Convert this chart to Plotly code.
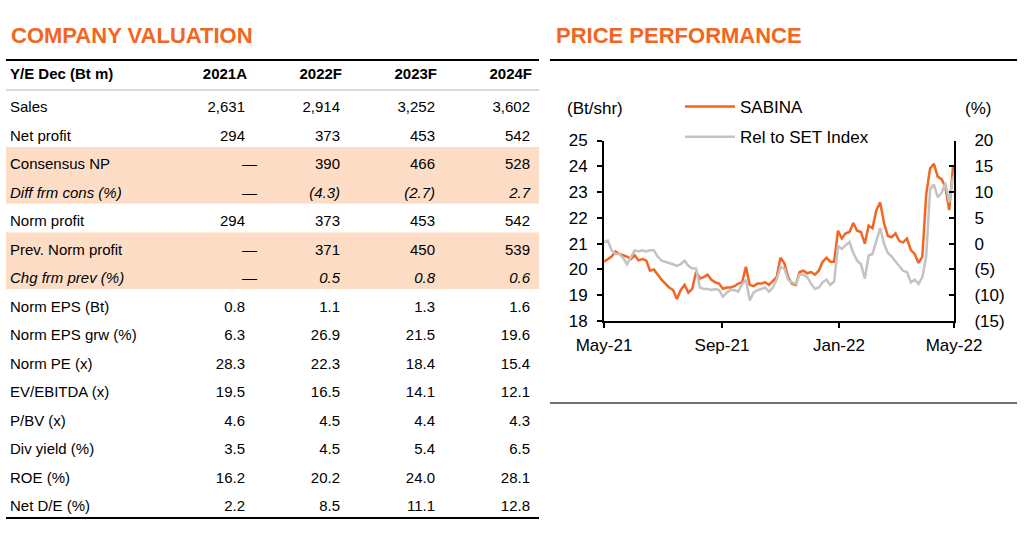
import pandas as pd
import plotly.graph_objects as go

# ---- table data ----
col_heads = ["2021A", "2022F", "2023F", "2024F"]
row_labels = ["Sales", "Net profit", "Consensus NP", "Diff frm cons (%)", "Norm profit",
              "Prev. Norm profit", "Chg frm prev (%)", "Norm EPS (Bt)", "Norm EPS grw (%)",
              "Norm PE (x)", "EV/EBITDA (x)", "P/BV (x)", "Div yield (%)", "ROE (%)", "Net D/E (%)"]
val_2021 = ["2,631", "294", "—", "—", "294", "—", "—", "0.8", "6.3", "28.3", "19.5", "4.6", "3.5", "16.2", "2.2"]
val_2022 = ["2,914", "373", "390", "(4.3)", "373", "371", "0.5", "1.1", "26.9", "22.3", "16.5", "4.5", "4.5", "20.2", "8.5"]
val_2023 = ["3,252", "453", "466", "(2.7)", "453", "450", "0.8", "1.3", "21.5", "18.4", "14.1", "4.4", "5.4", "24.0", "11.1"]
val_2024 = ["3,602", "542", "528", "2.7", "542", "539", "0.6", "1.6", "19.6", "15.4", "12.1", "4.3", "6.5", "28.1", "12.8"]
italic_rows = [3, 6]
shaded_rows = [(2, 3), (5, 6)]

# ---- price performance data (every 4 days from May-21) ----
dates = pd.date_range("2021-05-01", periods=92, freq="4D")
sabina = [20.3, 20.4, 20.5, 20.7, 20.6, 20.55, 20.5, 20.4, 20.55, 20.35,
          20.4, 20.35, 19.95, 20.0, 19.8, 19.6, 19.45, 19.3, 19.2, 18.85,
          19.2, 19.4, 19.1, 19.25, 19.9, 19.65, 19.7, 19.8, 19.6, 19.5,
          19.45, 19.25, 19.3, 19.3, 19.35, 19.45, 19.5, 20.1, 19.4, 19.35,
          19.45, 19.45, 19.5, 19.4, 19.55, 19.7, 20.45, 20.25, 19.7, 19.45,
          19.4, 19.9, 19.95, 19.85, 19.9, 19.8, 19.95, 20.3, 20.45, 20.3,
          20.3, 21.5, 21.2, 21.4, 21.45, 21.8, 21.5, 21.45, 21.0, 21.7,
          21.6, 22.3, 22.6, 21.8, 21.3, 21.25, 21.4, 21.1, 21.05, 21.2,
          20.75, 20.6, 20.25, 20.5, 22.9, 23.9, 24.1, 23.6, 23.5, 23.2,
          22.3, 24.0]
rel_set = [0.3, 0.6, -1.3, -2.0, -2.0, -2.8, -4.0, -2.5, -1.3, -1.5,
           -1.3, -1.5, -1.3, -1.3, -2.5, -3.3, -3.5, -3.8, -4.0, -4.3,
           -4.0, -3.3, -4.3, -4.8, -4.8, -8.5, -8.8, -8.8, -9.0, -8.8,
           -9.0, -10.3, -9.5, -9.0, -9.0, -9.3, -7.8, -7.0, -11.0, -9.5,
           -9.0, -8.8, -8.5, -9.3, -8.5, -7.0, -4.5, -4.8, -7.0, -7.5,
           -7.8, -6.0, -6.0, -6.5, -7.8, -8.8, -8.5, -7.5, -7.0, -8.0,
           -7.3, -0.5, -1.0, -0.3, 0.3, -1.8, -3.3, -4.0, -6.8, -2.3,
           -2.0, 0.5, 3.0, 0.0, -1.8, -2.5, -3.5, -4.5, -5.3, -5.5,
           -7.5, -7.0, -7.8, -6.5, -2.5, 10.5, 11.5, 9.0, 9.8, 11.8,
           8.0, 13.0]
x_ticks = ["2021-05-01", "2021-09-01", "2022-01-01", "2022-05-01"]
x_ticktext = ["May-21", "Sep-21", "Jan-22", "May-22"]
y2_ticks = [-15, -10, -5, 0, 5, 10, 15, 20]
y2_ticktext = ["(15)", "(10)", "(5)", "0", "5", "10", "15", "20"]

ORANGE = "#F26522"
GREY = "#C3C3C3"
PEACH = "#FDDDC6"
FONT = "Liberation Sans, Arial, sans-serif"
W, H = 1024, 540


def px(v):
    return v / W


def py(v):
    return 1 - v / H


fig = go.Figure()

# price lines
fig.add_trace(go.Scatter(x=dates, y=sabina, mode="lines", name="SABINA",
                         line=dict(color=ORANGE, width=2.5), legendgroup="a"))
fig.add_trace(go.Scatter(x=dates, y=rel_set, mode="lines", name="Rel to SET Index",
                         line=dict(color=GREY, width=2.5), yaxis="y2", legendgroup="b"))

# table text, drawn on a hidden pixel-like axis pair
rows = list(range(len(row_labels)))
fig.add_trace(go.Scatter(
    x=[10] * len(rows), y=rows, mode="text", xaxis="x3", yaxis="y3",
    text=[f"<i>{t}</i>" if i in italic_rows else t for i, t in enumerate(row_labels)],
    textposition="middle right", textfont=dict(size=15, color="black", family=FONT),
    showlegend=False, hoverinfo="skip"))

col_right = [245, 340, 435, 530]
for cx, vals in zip(col_right, [val_2021, val_2022, val_2023, val_2024]):
    num_rows = [i for i, v in enumerate(vals) if v != "—"]
    dash_rows = [i for i, v in enumerate(vals) if v == "—"]
    fig.add_trace(go.Scatter(
        x=[cx] * len(num_rows), y=num_rows, mode="text", xaxis="x3", yaxis="y3",
        text=[f"<i>{vals[i]}</i>" if i in italic_rows else vals[i] for i in num_rows],
        textposition="middle left", textfont=dict(size=15, color="black", family=FONT),
        showlegend=False, hoverinfo="skip"))
    if dash_rows:
        fig.add_trace(go.Scatter(
            x=[cx + 12] * len(dash_rows), y=dash_rows, mode="text", xaxis="x3", yaxis="y3",
            text=["—"] * len(dash_rows), textposition="middle left",
            textfont=dict(size=15, color="black", family=FONT),
            showlegend=False, hoverinfo="skip"))

# header row
fig.add_trace(go.Scatter(
    x=[10], y=[-1.17], mode="text", xaxis="x3", yaxis="y3", text=["<b>Y/E Dec (Bt m)</b>"],
    textposition="middle right", textfont=dict(size=15, color="black", family=FONT),
    showlegend=False, hoverinfo="skip"))
fig.add_trace(go.Scatter(
    x=[c + 2 for c in col_right], y=[-1.17] * 4, mode="text", xaxis="x3", yaxis="y3",
    text=[f"<b>{h}</b>" for h in col_heads],
    textposition="middle left", textfont=dict(size=15, color="black", family=FONT),
    showlegend=False, hoverinfo="skip"))

shapes = []
for r0, r1 in shaded_rows:
    shapes.append(dict(type="rect", xref="x3", yref="y3", x0=6, x1=539, y0=r0 - 0.65, y1=r1 + 0.33,
                       fillcolor=PEACH, line=dict(width=0), layer="below"))
# rules
shapes += [
    dict(type="line", xref="paper", yref="paper", x0=px(6), x1=px(539), y0=py(60), y1=py(60),
         line=dict(color="black", width=2)),
    dict(type="line", xref="paper", yref="paper", x0=px(6), x1=px(539), y0=py(90), y1=py(90),
         line=dict(color="#D9D9D9", width=2)),
    dict(type="line", xref="paper", yref="paper", x0=px(6), x1=px(539), y0=py(518), y1=py(518),
         line=dict(color="black", width=2)),
    dict(type="line", xref="paper", yref="paper", x0=px(550), x1=px(1017), y0=py(60), y1=py(60),
         line=dict(color="black", width=2)),
    dict(type="line", xref="paper", yref="paper", x0=px(550), x1=px(1017), y0=py(403), y1=py(403),
         line=dict(color="#404040", width=1.5)),
]

annotations = [
    dict(text="<b>COMPANY VALUATION</b>", x=px(9), y=py(36), xref="paper", yref="paper",
         xanchor="left", yanchor="middle", showarrow=False, font=dict(size=22, color=ORANGE, family=FONT)),
    dict(text="<b>PRICE PERFORMANCE</b>", x=px(554), y=py(36), xref="paper", yref="paper",
         xanchor="left", yanchor="middle", showarrow=False, font=dict(size=22, color=ORANGE, family=FONT)),
    dict(text="(Bt/shr)", x=px(595), y=py(109), xref="paper", yref="paper",
         xanchor="center", yanchor="middle", showarrow=False, font=dict(size=17, color="black", family=FONT)),
    dict(text="(%)", x=px(978), y=py(109), xref="paper", yref="paper",
         xanchor="center", yanchor="middle", showarrow=False, font=dict(size=17, color="black", family=FONT)),
]

axis_common = dict(showline=True, linecolor="black", linewidth=2, showgrid=False, zeroline=False,
                   tickcolor="black", tickwidth=2, ticklen=5, automargin=False,
                   tickfont=dict(size=17, color="black", family=FONT))

fig.update_layout(
    width=W, height=H, margin=dict(l=0, r=0, t=0, b=0, autoexpand=False),
    paper_bgcolor="white", plot_bgcolor="rgba(0,0,0,0)",
    font=dict(family=FONT, color="black"),
    showlegend=True,
    legend=dict(x=px(680), y=py(89), xanchor="left", yanchor="top", bgcolor="rgba(0,0,0,0)",
                font=dict(size=17, color="black", family=FONT), tracegroupgap=5, itemwidth=50),
    xaxis=dict(domain=[px(604), px(954)], range=["2021-05-01", "2022-05-01"],
               tickvals=x_ticks, ticktext=x_ticktext, ticks="outside", anchor="y",
               ticklabelstandoff=3, **axis_common),
    yaxis=dict(domain=[py(321), py(140.5)], range=[18, 25], dtick=1, ticks="outside",
               ticklabelstandoff=6, anchor="x", **axis_common),
    yaxis2=dict(domain=[py(321), py(140.5)], range=[-15, 20], tickvals=y2_ticks, ticktext=y2_ticktext,
                ticks="inside", side="right", overlaying="y", anchor="x", ticklabelstandoff=15,
                **axis_common),
    xaxis3=dict(domain=[0, px(548)], range=[0, 548], visible=False, anchor="y3"),
    yaxis3=dict(domain=[0, 1], range=[(540 - 108.5) / 28.5, -108.5 / 28.5], visible=False, anchor="x3"),
    shapes=shapes, annotations=annotations,
)

# drop the browser's default 8px body margin so the figure sits at the page corner
fig.write_html("out.html", config={"displayModeBar": False},
               post_script="document.body.style.margin='0px';")
